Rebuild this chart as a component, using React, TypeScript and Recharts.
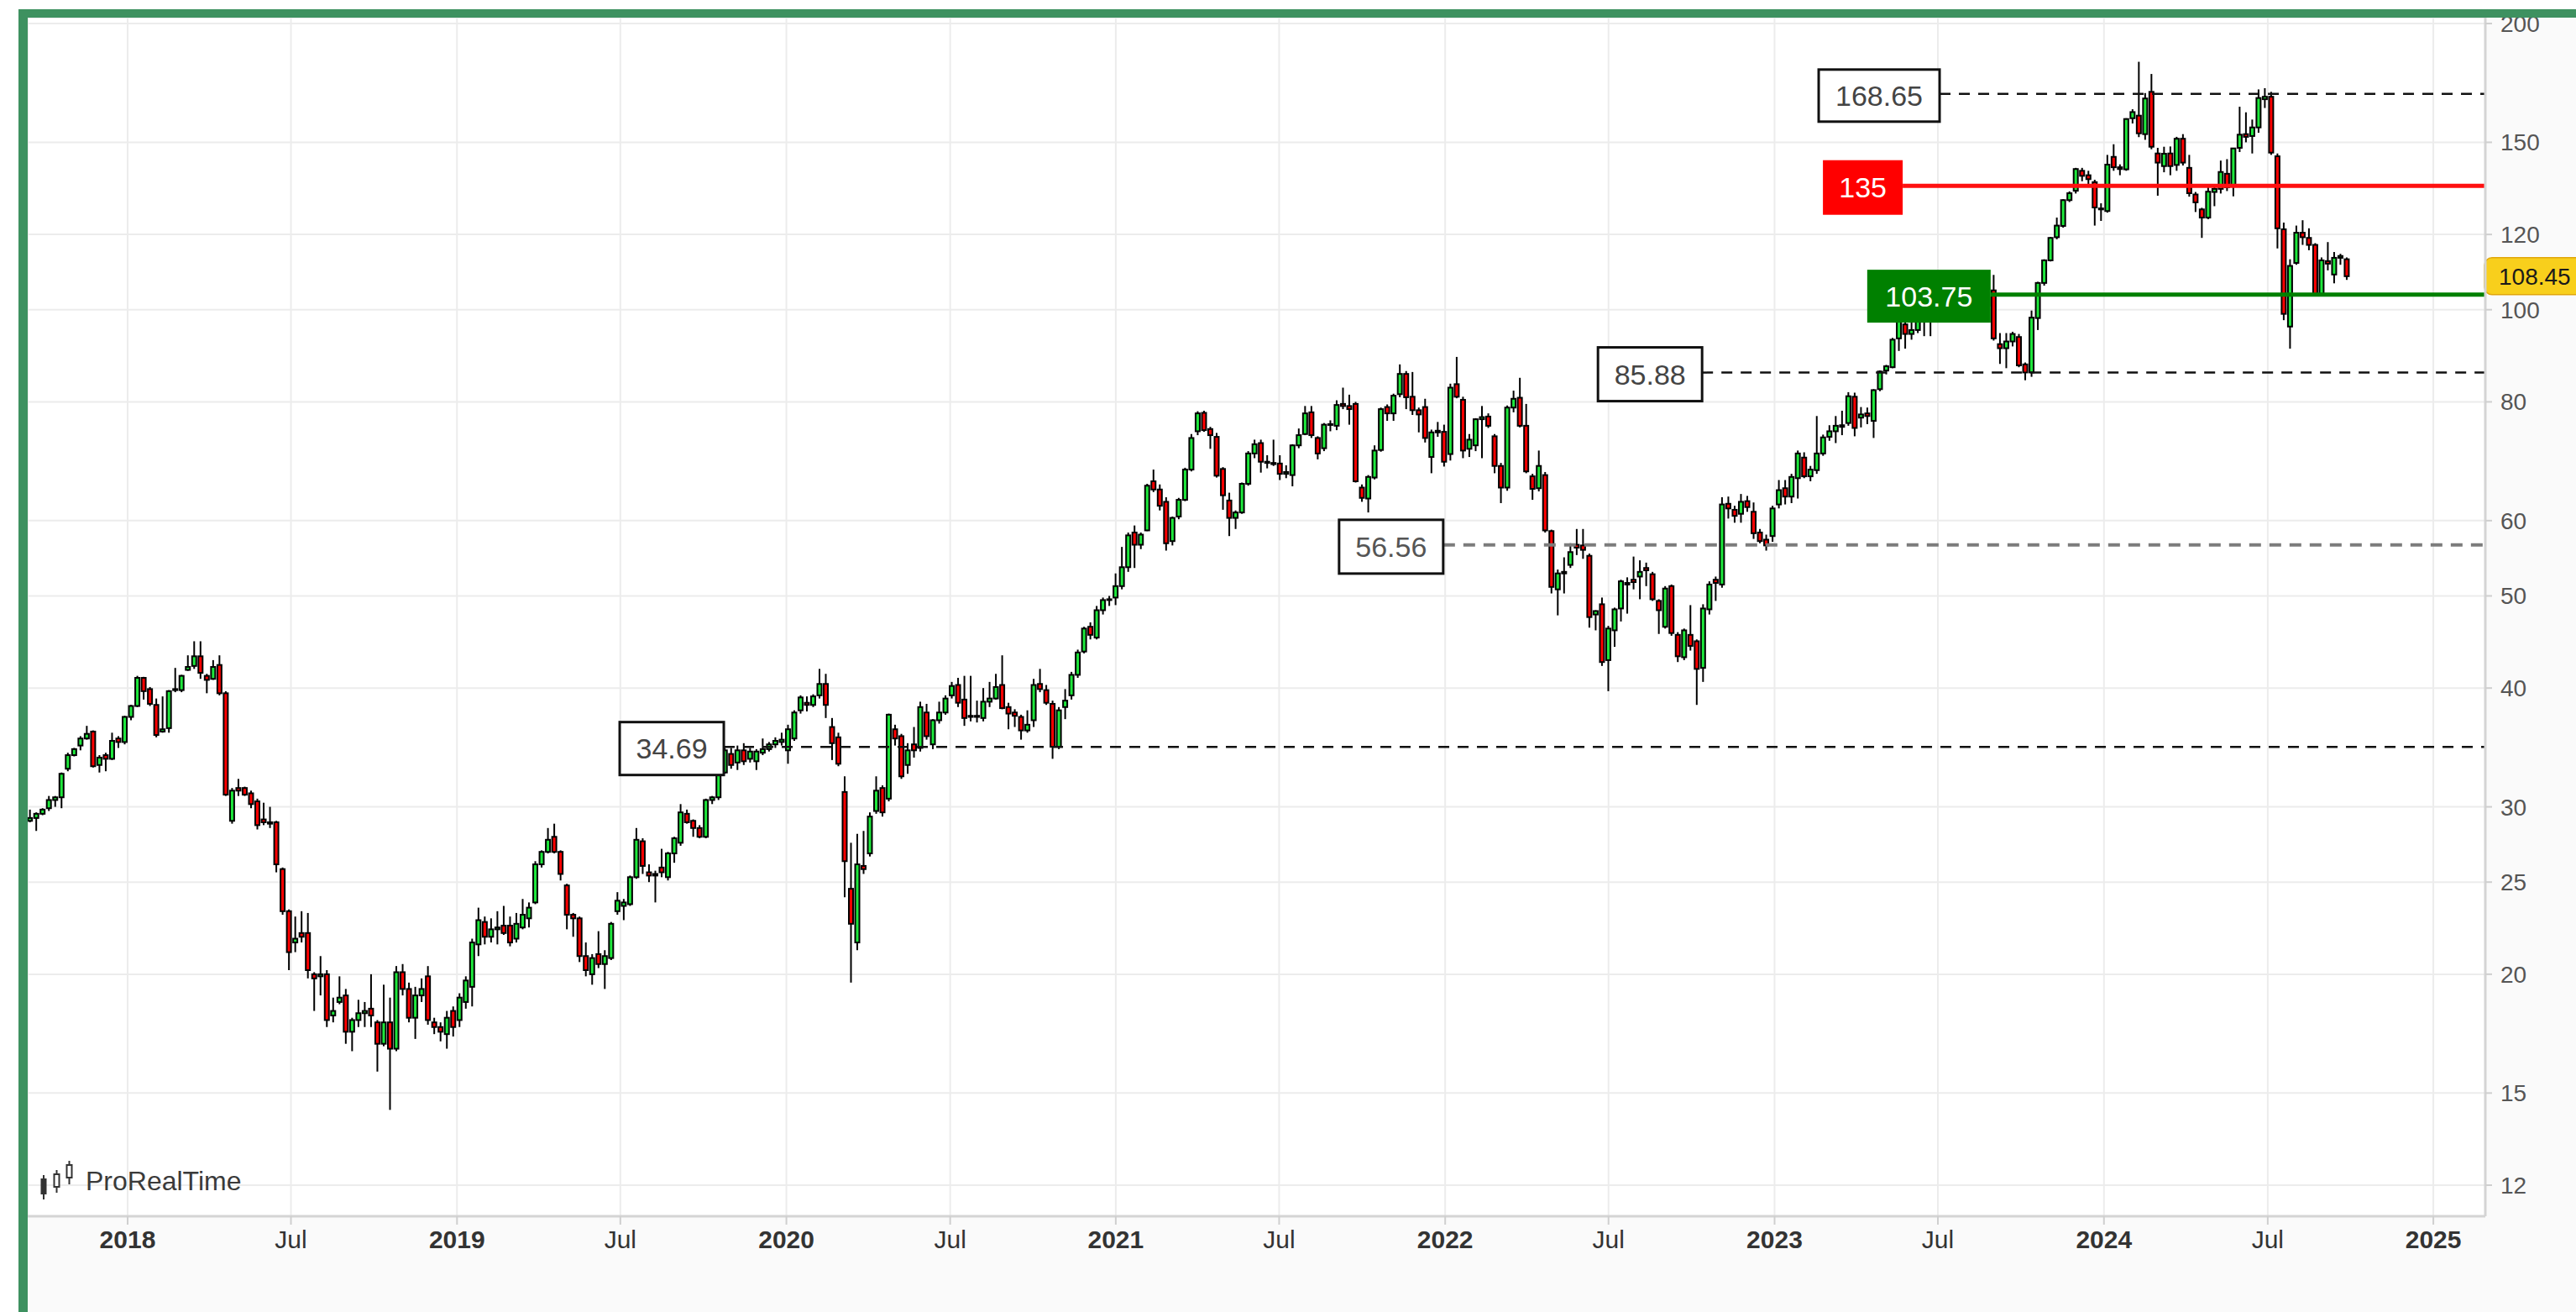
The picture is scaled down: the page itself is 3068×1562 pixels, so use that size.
import React from 'react'
import { ComposedChart, Bar, XAxis, YAxis, CartesianGrid, ReferenceLine } from 'recharts'

// weekly candles: [open, high, low, close]
type Candle = [number, number, number, number]

const firstWeek = '2017-09-08'

const w2017: Candle[] = [
  [29.3, 29.4, 28.9, 29.0], [29.0, 29.8, 28.9, 29.2], [29.2, 29.6, 28.3, 29.5], [29.5, 29.9, 29.4, 29.8],
  [29.9, 30.8, 29.7, 30.5], [30.5, 30.8, 30.0, 30.7], [30.7, 32.6, 29.9, 32.5], [32.9, 34.2, 32.7, 34.0],
  [34.0, 34.6, 33.9, 34.5], [34.8, 35.6, 34.4, 35.4], [35.4, 36.5, 35.3, 35.8], [36.0, 36.1, 33.0, 33.1],
  [33.2, 34.0, 32.6, 33.8], [34.0, 34.2, 32.7, 33.7], [33.7, 35.9, 33.6, 35.2], [35.4, 35.6, 34.6, 35.1],
  [35.1, 37.4, 34.9, 37.3],
]

const w2018: Candle[] = [
  [37.3, 38.4, 37.0, 38.3], [38.3, 41.2, 38.2, 41.0], [41.0, 41.1, 38.9, 39.7], [39.9, 40.1, 38.3, 38.5],
  [38.4, 39.0, 35.5, 35.7], [36.0, 39.2, 35.9, 36.2], [36.3, 39.8, 35.9, 39.7], [39.9, 42.0, 39.6, 39.8],
  [39.8, 41.3, 39.6, 41.2], [41.8, 43.3, 41.7, 42.1], [42.2, 44.8, 41.9, 43.2], [43.2, 44.8, 40.9, 41.5],
  [41.2, 41.4, 39.5, 40.8], [40.9, 42.8, 40.8, 42.1], [42.3, 43.3, 39.3, 39.5], [39.5, 39.7, 30.8, 30.9],
  [29.0, 31.4, 28.8, 31.2], [31.4, 32.1, 30.8, 31.2], [31.4, 31.5, 30.8, 30.9], [31.0, 31.2, 29.9, 30.2],
  [30.4, 30.6, 28.4, 28.7], [29.1, 30.3, 28.7, 28.9], [28.9, 30.0, 28.5, 28.8], [28.9, 29.0, 25.6, 26.1],
  [25.8, 25.9, 23.1, 23.3], [23.3, 23.4, 20.2, 21.1], [21.6, 23.0, 21.1, 21.8], [22.1, 23.3, 21.6, 21.9],
  [22.1, 23.2, 19.8, 20.2], [20.0, 20.1, 18.3, 19.8], [19.9, 20.9, 19.0, 20.0], [20.0, 20.2, 17.6, 17.9],
  [18.1, 18.9, 17.8, 18.3], [18.7, 19.9, 18.6, 18.9], [19.0, 19.3, 16.9, 17.4], [17.4, 18.0, 16.6, 17.9],
  [17.9, 18.8, 17.6, 18.2], [18.2, 18.7, 17.6, 18.3], [18.4, 20.0, 17.6, 18.1], [17.8, 17.9, 15.8, 16.9],
  [16.9, 19.5, 16.8, 17.8], [17.8, 18.9, 14.4, 16.7], [16.7, 20.4, 16.6, 20.1], [20.1, 20.5, 19.0, 19.3],
  [19.3, 19.6, 17.8, 18.0], [18.0, 19.4, 17.1, 19.0], [19.0, 19.8, 18.7, 19.3], [19.9, 20.4, 17.7, 17.9],
  [17.8, 18.0, 17.3, 17.6], [17.6, 17.8, 17.0, 17.4], [17.3, 18.3, 16.7, 18.0], [18.3, 18.5, 17.2, 17.6],
]

const w2019: Candle[] = [
  [17.9, 19.1, 17.6, 18.9], [18.7, 19.9, 18.4, 19.7], [19.4, 21.8, 18.5, 21.6], [21.5, 23.5, 20.9, 22.8],
  [22.7, 23.0, 21.5, 21.9], [21.9, 22.9, 21.6, 22.3], [22.3, 23.3, 21.5, 22.4], [22.5, 23.6, 22.0, 22.1],
  [22.5, 23.0, 21.4, 21.6], [21.8, 23.2, 21.6, 22.6], [22.4, 24.0, 22.3, 23.1], [22.9, 23.8, 22.4, 23.5],
  [23.8, 26.3, 23.7, 26.1], [26.1, 27.0, 25.9, 26.9], [26.9, 28.5, 26.8, 27.7], [27.9, 28.8, 26.8, 26.9],
  [26.9, 27.0, 25.1, 25.5], [24.8, 24.9, 22.3, 23.1], [23.1, 23.2, 21.9, 22.9], [22.9, 23.0, 20.6, 20.9],
  [20.9, 21.6, 19.9, 20.2], [20.0, 21.0, 19.5, 20.8], [21.0, 22.2, 20.3, 20.5], [20.5, 21.2, 19.3, 20.9],
  [20.8, 22.7, 20.7, 22.6], [23.3, 24.4, 23.1, 23.9], [23.6, 24.0, 22.8, 23.8], [23.7, 25.4, 23.6, 25.3],
  [25.3, 28.5, 25.2, 27.7], [27.6, 27.8, 25.5, 26.0], [25.6, 26.1, 25.0, 25.4], [25.4, 25.7, 23.8, 25.5],
  [25.9, 27.1, 25.3, 25.6], [25.3, 26.9, 25.1, 26.8], [26.8, 27.9, 26.2, 27.8], [27.5, 30.2, 27.3, 29.6],
  [29.5, 29.8, 28.8, 28.9], [29.0, 29.1, 27.9, 28.5], [28.5, 28.7, 27.8, 27.9], [27.9, 30.6, 27.8, 30.5],
  [30.5, 30.8, 30.2, 30.7], [30.7, 32.6, 30.5, 32.4], [32.6, 34.6, 32.5, 34.4], [34.1, 34.6, 32.9, 33.2],
  [33.4, 34.8, 32.8, 34.4], [34.4, 35.0, 33.2, 33.5], [33.7, 34.6, 33.4, 34.3], [33.5, 34.5, 32.8, 34.3],
  [34.2, 35.4, 34.0, 34.5], [34.5, 35.1, 34.3, 34.9], [34.9, 35.5, 34.6, 35.2], [35.1, 35.9, 34.8, 35.3],
]

const w2020: Candle[] = [
  [34.4, 36.6, 33.3, 36.2], [35.4, 37.9, 35.2, 37.7], [37.9, 39.3, 37.6, 39.1], [38.6, 39.2, 37.8, 38.4],
  [38.4, 39.4, 38.2, 39.2], [39.3, 41.9, 39.0, 40.4], [40.4, 41.4, 37.2, 38.4], [36.4, 37.2, 33.6, 35.0],
  [35.5, 35.9, 33.1, 33.3], [31.1, 32.3, 24.1, 26.3], [24.6, 27.5, 19.6, 22.6], [21.6, 28.1, 21.2, 26.1],
  [26.0, 28.3, 25.5, 25.8], [26.8, 29.6, 26.6, 29.3], [29.7, 32.3, 29.5, 31.2], [31.4, 31.6, 29.3, 29.6],
  [30.6, 37.6, 30.4, 37.5], [36.2, 36.6, 34.8, 35.4], [35.6, 35.8, 32.1, 32.3], [33.2, 35.0, 32.5, 34.4],
  [34.9, 36.4, 33.8, 34.4], [34.6, 38.7, 34.3, 38.2], [37.7, 38.5, 35.3, 35.6], [34.9, 37.1, 34.5, 37.0],
  [37.0, 38.7, 36.7, 37.7], [37.7, 39.3, 37.5, 39.0], [39.3, 40.6, 39.0, 40.2], [40.3, 41.0, 38.2, 38.6],
  [38.9, 41.2, 36.5, 37.2], [37.3, 41.2, 36.9, 37.4], [37.4, 38.8, 36.8, 37.3], [37.2, 40.0, 36.9, 38.7],
  [38.7, 40.6, 38.2, 39.0], [39.0, 41.4, 38.9, 40.1], [40.3, 43.3, 38.0, 38.1], [38.2, 38.6, 36.2, 37.6],
  [37.7, 38.0, 36.4, 37.4], [37.3, 37.5, 35.3, 36.1], [36.1, 37.9, 35.9, 36.6], [37.0, 40.9, 36.4, 40.3],
  [40.4, 41.9, 39.6, 39.9], [39.8, 40.3, 38.4, 38.6], [38.5, 38.8, 33.7, 34.7], [34.7, 38.2, 34.5, 37.9],
  [38.2, 39.9, 37.1, 38.8], [39.3, 41.6, 38.9, 41.3], [41.3, 43.9, 41.0, 43.6], [43.7, 46.4, 43.5, 46.2],
  [46.4, 46.9, 45.0, 45.5], [45.2, 48.8, 45.0, 48.3], [48.3, 49.8, 47.8, 49.5], [49.5, 50.0, 48.8, 49.6],
]

const w2021: Candle[] = [
  [49.8, 52.8, 48.9, 51.2], [51.2, 56.3, 50.8, 53.6], [53.6, 58.3, 53.0, 57.9], [58.3, 59.3, 53.5, 56.6],
  [56.6, 58.3, 56.0, 58.0], [58.6, 65.6, 58.5, 65.3], [66.0, 67.9, 64.3, 64.7], [64.7, 65.5, 61.5, 62.2],
  [62.8, 63.5, 55.8, 56.8], [57.1, 60.6, 56.5, 60.4], [60.6, 63.4, 60.2, 63.1], [63.1, 68.2, 62.9, 67.9],
  [67.9, 74.0, 67.6, 73.3], [74.5, 78.2, 73.8, 77.8], [77.9, 78.3, 74.4, 74.7], [74.9, 75.3, 71.4, 73.8],
  [73.5, 74.2, 66.6, 66.9], [68.0, 68.3, 61.6, 63.8], [63.0, 64.2, 57.8, 60.4], [60.4, 61.5, 58.8, 61.2],
  [61.2, 65.8, 61.0, 65.6], [65.6, 71.0, 65.3, 70.6], [70.6, 73.0, 69.8, 72.2], [72.4, 73.0, 67.4, 69.2],
  [69.2, 70.3, 68.1, 69.0], [69.0, 73.0, 68.5, 68.8], [68.9, 70.3, 66.2, 67.2], [67.2, 68.6, 66.5, 67.5],
  [67.0, 72.2, 65.2, 72.0], [72.0, 75.0, 71.5, 73.8], [74.0, 79.2, 73.8, 77.8], [78.0, 79.2, 73.3, 73.8],
  [73.3, 73.6, 69.6, 70.6], [71.5, 76.0, 71.0, 75.7], [75.7, 76.5, 74.5, 75.8], [75.5, 80.3, 74.7, 79.4],
  [79.6, 82.8, 78.6, 79.2], [79.2, 81.4, 75.7, 78.6], [79.6, 80.0, 65.8, 66.0], [65.0, 65.5, 62.8, 63.4],
  [63.3, 67.0, 61.2, 66.7], [66.6, 72.0, 66.3, 71.1], [71.2, 78.9, 70.9, 78.6], [79.0, 79.5, 76.4, 77.8],
  [77.8, 81.6, 76.4, 81.2], [81.5, 87.6, 80.9, 85.6], [85.6, 86.2, 78.6, 80.9], [81.0, 86.0, 77.5, 78.4],
  [78.4, 78.9, 74.3, 77.6], [79.0, 80.6, 72.5, 73.3], [70.0, 74.8, 67.3, 74.3], [74.3, 76.2, 73.5, 74.6],
]

const w2022: Candle[] = [
  [74.4, 75.7, 68.4, 69.2], [70.5, 83.6, 69.4, 82.8], [83.5, 89.2, 80.7, 81.0], [80.4, 81.0, 69.8, 71.1],
  [71.4, 74.0, 70.0, 73.0], [72.0, 76.9, 71.0, 76.7], [76.7, 79.2, 69.8, 77.1], [77.2, 77.8, 75.1, 75.5],
  [73.6, 74.0, 67.3, 68.5], [68.5, 69.0, 62.6, 65.0], [65.0, 79.3, 64.5, 78.9], [78.9, 82.2, 78.0, 80.6],
  [80.8, 84.8, 75.2, 75.5], [75.5, 79.6, 67.3, 67.6], [66.8, 67.2, 63.1, 64.8], [64.9, 71.1, 64.4, 68.5],
  [67.0, 67.5, 58.3, 58.6], [58.5, 58.7, 50.3, 51.1], [50.8, 53.3, 47.7, 52.8], [52.8, 54.9, 50.3, 53.0],
  [53.9, 56.8, 53.5, 55.6], [56.6, 58.8, 55.2, 56.2], [56.5, 58.8, 54.7, 55.9], [55.1, 55.4, 46.3, 47.5],
  [47.8, 48.3, 46.0, 48.2], [49.0, 49.8, 42.2, 42.6], [42.8, 46.5, 39.7, 46.2], [46.0, 48.6, 44.2, 48.4],
  [48.5, 52.0, 47.0, 51.8], [51.6, 52.3, 47.9, 51.4], [52.0, 55.0, 50.8, 51.7], [52.4, 54.5, 49.6, 53.0],
  [53.5, 54.2, 51.2, 53.2], [52.7, 53.0, 49.4, 49.6], [49.4, 49.6, 45.6, 48.3], [46.4, 51.2, 46.2, 50.9],
  [51.2, 51.4, 45.4, 45.7], [45.5, 45.8, 42.6, 43.2], [43.1, 46.2, 42.8, 46.0], [45.5, 48.9, 43.8, 44.3],
  [44.8, 45.0, 38.4, 41.9], [42.0, 49.0, 40.6, 48.5], [48.4, 51.8, 47.8, 51.4], [52.0, 52.4, 49.4, 51.6],
  [51.4, 63.5, 51.0, 62.4], [62.5, 63.6, 60.3, 61.8], [61.6, 62.2, 59.7, 60.7], [61.0, 64.0, 59.7, 62.8],
  [62.9, 63.7, 61.3, 62.0], [61.3, 62.7, 57.4, 58.2], [58.3, 58.8, 56.8, 57.1], [57.3, 58.0, 55.8, 56.5],
]

const w2023: Candle[] = [
  [57.8, 62.2, 57.0, 61.8], [62.4, 66.2, 61.8, 64.6], [64.9, 66.2, 62.4, 63.6], [63.6, 67.2, 62.6, 66.7],
  [66.5, 71.1, 63.3, 70.6], [69.9, 70.8, 66.5, 66.8], [66.8, 68.5, 66.0, 67.9], [67.8, 77.3, 67.2, 70.6],
  [70.6, 73.9, 70.2, 73.4], [73.5, 75.6, 72.8, 74.5], [74.5, 77.3, 72.4, 75.5], [75.3, 78.3, 73.8, 75.6],
  [76.0, 81.9, 75.5, 81.1], [81.0, 81.8, 73.6, 75.1], [77.0, 79.0, 75.2, 77.6], [77.8, 78.9, 75.8, 77.3],
  [76.4, 82.5, 73.3, 82.3], [82.5, 86.3, 82.1, 86.1], [86.3, 87.5, 85.5, 87.2], [87.0, 93.4, 86.8, 93.0],
  [93.3, 99.0, 90.5, 97.5], [96.5, 97.5, 91.0, 94.3], [94.3, 97.0, 93.0, 95.2], [95.2, 98.0, 94.5, 97.5],
  [97.5, 99.0, 93.8, 98.5], [98.5, 100.5, 93.8, 99.5], [99.5, 101.5, 97.5, 100.6], [100.6, 103.0, 98.0, 101.8],
  [101.8, 103.3, 99.5, 100.4], [100.4, 102.5, 98.5, 101.9], [101.9, 103.3, 100.0, 102.8], [102.8, 103.4, 99.8, 100.9],
  [100.9, 103.0, 99.0, 102.3], [102.3, 103.3, 100.2, 101.0], [101.0, 103.3, 99.6, 103.0], [104.8, 108.8, 92.8, 93.3],
  [92.0, 94.5, 87.7, 91.1], [91.1, 94.5, 86.8, 92.6], [92.6, 94.8, 91.5, 94.3], [93.6, 94.3, 87.0, 87.4],
  [87.6, 88.0, 84.3, 85.9], [85.9, 99.8, 85.0, 98.1], [98.0, 107.0, 95.2, 106.7], [106.7, 113.0, 106.0, 112.7],
  [112.7, 119.3, 112.4, 119.0], [119.2, 125.0, 118.6, 122.6], [122.5, 130.7, 122.0, 130.4], [130.4, 133.2, 129.8, 132.6],
  [133.4, 141.0, 132.5, 140.6], [140.0, 141.0, 136.5, 138.3], [138.5, 140.0, 134.5, 137.2], [136.2, 137.0, 122.6, 128.1],
]

const w2024: Candle[] = [
  [127.5, 129.4, 124.0, 127.8], [127.0, 145.5, 126.5, 142.1], [144.8, 149.3, 140.0, 141.2], [141.2, 142.2, 138.5, 140.6],
  [140.5, 159.0, 140.0, 158.7], [159.0, 162.5, 157.0, 161.4], [160.0, 182.3, 151.9, 153.3], [153.0, 169.0, 150.9, 166.8],
  [169.5, 177.0, 147.5, 148.4], [146.0, 148.0, 131.8, 142.8], [141.6, 148.4, 139.5, 145.9], [146.0, 148.5, 138.5, 141.6],
  [142.0, 152.0, 140.0, 151.3], [151.3, 153.0, 141.8, 142.8], [141.0, 145.5, 131.5, 132.6], [132.2, 133.0, 126.7, 129.7],
  [127.5, 128.0, 119.0, 125.0], [125.0, 134.5, 124.5, 133.1], [133.0, 135.0, 128.5, 134.0], [134.0, 143.5, 132.5, 139.6],
  [139.0, 144.0, 133.3, 134.5], [135.0, 148.0, 131.6, 147.8], [148.0, 163.5, 146.5, 152.8], [153.0, 161.3, 150.0, 152.0],
  [152.3, 158.5, 146.0, 155.5], [155.5, 170.5, 153.5, 167.0], [166.5, 171.0, 163.0, 167.5], [167.5, 169.5, 145.5, 146.3],
  [145.0, 146.0, 116.0, 121.8], [121.5, 123.5, 97.5, 99.0], [96.0, 113.0, 91.0, 111.2], [112.0, 122.6, 111.5, 120.5],
  [120.5, 124.2, 117.0, 119.2], [119.0, 121.8, 115.5, 117.0], [117.0, 117.5, 103.5, 103.9], [103.9, 113.5, 103.5, 112.7],
  [112.5, 117.8, 110.0, 111.8], [108.9, 115.0, 106.6, 113.4], [113.4, 114.5, 111.5, 113.9], [113.0, 113.5, 107.5, 108.45],
]

const yTicks = [12, 15, 20, 25, 30, 40, 50, 60, 80, 100, 120, 150, 200]
const xTickDates = [
  '2018-01-01', '2018-07-01', '2019-01-01', '2019-07-01', '2020-01-01', '2020-07-01', '2021-01-01', '2021-07-01',
  '2022-01-01', '2022-07-01', '2023-01-01', '2023-07-01', '2024-01-01', '2024-07-01', '2025-01-01',
]
const xTickLabels = ['2018', 'Jul', '2019', 'Jul', '2020', 'Jul', '2021', 'Jul', '2022', 'Jul', '2023', 'Jul', '2024', 'Jul', '2025']

const levelValues = [168.65, 135, 103.75, 85.88, 56.56, 34.69]
const levelLabels = ['168.65', '135', '103.75', '85.88', '56.56', '34.69']
const lastPrice = 108.45

// where each level line starts (fraction of year) and how it looks
const LEVEL_STYLE = [
  { from: 2023.501, line: '#111', width: 2.5, dash: '13 10', box: { w: 144, h: 62, fill: '#fff', stroke: '#111', color: '#444' } },
  { from: 2023.389, line: '#ff1010', width: 5, dash: undefined, box: { w: 95, h: 65, fill: '#ff0000', stroke: 'none', color: '#fff' } },
  { from: 2023.656, line: '#008000', width: 5, dash: undefined, box: { w: 147, h: 63, fill: '#008000', stroke: 'none', color: '#fff' } },
  { from: 2022.780, line: '#111', width: 2.5, dash: '13 10', box: { w: 124, h: 64, fill: '#fff', stroke: '#111', color: '#444' } },
  { from: 2021.994, line: '#7c7c7c', width: 4, dash: '14 10', box: { w: 124, h: 64, fill: '#fff', stroke: '#111', color: '#555' } },
  { from: 2019.810, line: '#111', width: 2.5, dash: '13 10', box: { w: 124, h: 63, fill: '#fff', stroke: '#111', color: '#444' } },
]

const W = 3068
const H = 1562
const X_DOMAIN: [number, number] = [2017.6967, 2025.1578]
const Y_DOMAIN: [number, number] = [11.13, 202.87]
const GREEN = '#1ee83c'
const RED = '#ff0000'
const FRAME = '#3e9160'
const FONT = '"Liberation Sans", Arial, sans-serif'

const DAY = 86400000
const toT = (ms: number) => {
  const y = new Date(ms).getUTCFullYear()
  const a = Date.UTC(y, 0, 1)
  const b = Date.UTC(y + 1, 0, 1)
  return y + (ms - a) / (b - a)
}

const startMs = Date.parse(firstWeek + 'T00:00:00Z')
const allWeeks = [...w2017, ...w2018, ...w2019, ...w2020, ...w2021, ...w2022, ...w2023, ...w2024]
const rows = allWeeks.map((c, k) => ({
  t: toT(startMs + k * 7 * DAY),
  open: c[0],
  high: c[1],
  low: c[2],
  close: c[3],
  range: [c[2], c[1]],
}))
const xTickValues = xTickDates.map(d => toT(Date.parse(d + 'T00:00:00Z')))

function CandleShape(props: any) {
  const { x, y, width, height, payload } = props
  if (x == null || y == null || !payload) return null
  const cx = x + width / 2
  const top = Math.min(y, y + height)
  const bot = Math.max(y, y + height)
  const lh = Math.log(payload.high)
  const ll = Math.log(payload.low)
  const span = lh - ll
  // log axis: place open/close between the high and low pixels
  const py = (v: number) => (span > 0 ? top + ((lh - Math.log(v)) / span) * (bot - top) : top)
  const yo = py(payload.open)
  const yc = py(payload.close)
  const up = payload.close >= payload.open
  const bTop = Math.min(yo, yc)
  const bH = Math.max(Math.abs(yc - yo), 1)
  return (
    <g>
      <line x1={cx} x2={cx} y1={top} y2={bot} stroke="#000" strokeWidth={2} />
      <rect x={cx - 2.5} y={bTop} width={5} height={bH} fill={up ? GREEN : RED} stroke="#000" strokeWidth={2} />
    </g>
  )
}

function XTick(props: any) {
  const { x, y, payload } = props
  const i = xTickValues.findIndex(v => Math.abs(v - payload.value) < 1e-6)
  const label = xTickLabels[i] ?? ''
  return (
    <text x={x} y={y} dy={26} textAnchor="middle" fontSize={30} fontWeight={label === 'Jul' ? 400 : 700} fill="#333" fontFamily={FONT}>
      {label}
    </text>
  )
}

function YTick(props: any) {
  const { x, y, payload } = props
  return (
    <text x={x} y={y} dy={10} textAnchor="start" fontSize={28} fill="#555" fontFamily={FONT}>
      {payload.value}
    </text>
  )
}

function LevelBox(props: any) {
  const { viewBox, text, w, h, fill, stroke, color } = props
  if (!viewBox) return null
  const right = viewBox.x
  const cy = viewBox.y + 2
  return (
    <g>
      <rect x={right - w} y={cy - h / 2} width={w} height={h} fill={fill} stroke={stroke} strokeWidth={stroke === 'none' ? 0 : 3} />
      <text x={right - w / 2} y={cy} dy={12} textAnchor="middle" fontSize={34} fill={color} fontFamily={FONT}>
        {text}
      </text>
    </g>
  )
}

function PriceTag(props: any) {
  const { viewBox, text } = props
  if (!viewBox) return null
  const left = viewBox.x + viewBox.width - 1
  const cy = viewBox.y
  return (
    <g>
      <rect x={left} y={cy - 22} width={130} height={44} rx={9} fill="#f8cf1c" stroke="#e0a60a" strokeWidth={1.5} />
      <text x={left + 17} y={cy} dy={10} fontSize={28} fill="#1a1a1a" fontFamily={FONT}>
        {text}
      </text>
    </g>
  )
}

export default function App() {
  return (
    <div style={{ position: 'relative', width: W, height: H, background: '#fafafa', overflow: 'hidden', fontFamily: FONT }}>
      <style>{'body{margin:0}'}</style>
      <div style={{ position: 'absolute', left: 0, top: 0, width: W, height: 11, background: '#fff' }} />
      <div style={{ position: 'absolute', left: 0, top: 0, width: 22, height: H, background: '#fff' }} />
      <div style={{ position: 'absolute', left: 33, top: 21, width: 2927, height: 1427, background: '#fff' }} />
      <div style={{ position: 'absolute', left: 0, top: 0 }}>
        <ComposedChart width={W} height={H} data={rows} margin={{ top: 21, right: 0, bottom: 0, left: 33 }}>
          <CartesianGrid stroke="#ececec" strokeWidth={2} />
          <XAxis
            dataKey="t"
            type="number"
            domain={X_DOMAIN}
            allowDataOverflow
            ticks={xTickValues}
            interval={0}
            tick={<XTick />}
            height={114}
            tickSize={10}
            axisLine={{ stroke: '#d4d4d4', strokeWidth: 3 }}
            tickLine={{ stroke: '#cfcfcf', strokeWidth: 2 }}
          />
          <YAxis
            orientation="right"
            scale="log"
            domain={Y_DOMAIN}
            allowDataOverflow
            ticks={yTicks}
            interval={0}
            tick={<YTick />}
            width={108}
            tickSize={8}
            tickMargin={10}
            axisLine={{ stroke: '#d4d4d4', strokeWidth: 3 }}
            tickLine={{ stroke: '#cfcfcf', strokeWidth: 2 }}
          />
          <Bar dataKey="range" shape={<CandleShape />} barSize={7} isAnimationActive={false} />
          {levelValues.map((v, i) => {
            const s = LEVEL_STYLE[i]
            return (
              <ReferenceLine
                key={levelLabels[i]}
                segment={[{ x: s.from, y: v }, { x: X_DOMAIN[1], y: v }]}
                stroke={s.line}
                strokeWidth={s.width}
                strokeDasharray={s.dash}
                ifOverflow="visible"
                label={<LevelBox text={levelLabels[i]} {...s.box} />}
              />
            )
          })}
          <ReferenceLine y={lastPrice} stroke="none" ifOverflow="visible" label={<PriceTag text={lastPrice.toFixed(2)} />} />
        </ComposedChart>
      </div>
      <div style={{ position: 'absolute', left: 22, top: 11, width: W - 22, height: 10, background: FRAME }} />
      <div style={{ position: 'absolute', left: 22, top: 11, width: 11, height: H - 11, background: FRAME }} />
      <svg style={{ position: 'absolute', left: 0, top: 0 }} width={320} height={1440} viewBox="0 0 320 1440">
        <g transform="translate(0,0)">
          <line x1={52} x2={52} y1={1399} y2={1428} stroke="#333" strokeWidth={2} />
          <rect x={48.5} y={1403} width={7} height={19} fill="#333" />
          <line x1={67.5} x2={67.5} y1={1393} y2={1420} stroke="#333" strokeWidth={2} />
          <rect x={64.5} y={1398} width={6} height={15} fill="#fff" stroke="#333" strokeWidth={2} />
          <line x1={82.5} x2={82.5} y1={1382} y2={1410} stroke="#333" strokeWidth={2} />
          <rect x={79.5} y={1387} width={6} height={15} fill="#fff" stroke="#333" strokeWidth={2} />
          <text x={102} y={1417} fontSize={32} fill="#3a3a3a" fontFamily={FONT}>
            ProRealTime
          </text>
        </g>
      </svg>
    </div>
  )
}
